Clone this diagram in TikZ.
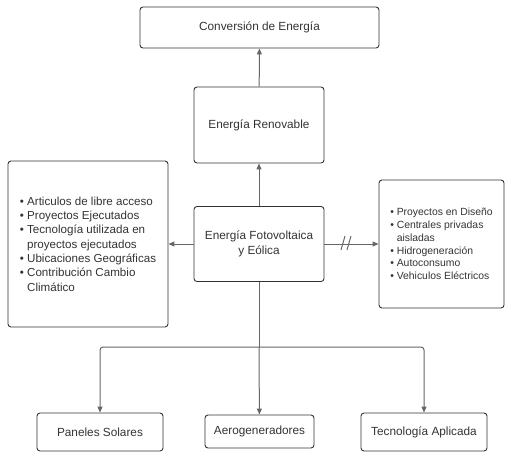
\documentclass[tikz,border=0pt]{standalone}
\usepackage{fontspec}
\setmainfont{Liberation Sans}
\usetikzlibrary{arrows.meta}
\definecolor{B1}{RGB}{51,51,51}
\definecolor{L1}{RGB}{102,102,102}
\tikzstyle{box}=[draw=B1, line width=0.9pt, rounded corners=3pt, text=B1, align=center, font=\fontsize{11.8}{14.6}\selectfont]
\tikzstyle{arr}=[draw=L1, line width=1pt, -{Triangle[length=6pt,width=5pt]}]
\tikzstyle{lin}=[draw=L1, line width=1pt]

\begin{document}
\begin{tikzpicture}[x=1pt, y=-1pt]
    \useasboundingbox (0,0) rectangle (508,459);
    \node[box, minimum width=239pt, minimum height=41pt] (conv) at (259.5,27.5) {Conversión de Energía};
    \node[box, minimum width=130pt, minimum height=76pt] (renov) at (259,125) {Energía Renovable};
    \node[box, minimum width=130pt, minimum height=75pt] (fv) at (259,244) {Energía Fotovoltaica\\y Eólica};
    \node[box, minimum width=160pt, minimum height=166pt, align=left, font=\fontsize{11.6}{14.3}\selectfont] (acceso) at (88,244)
      {\textbullet\ Articulos de libre acceso\\
       \textbullet\ Proyectos Ejecutados\\
       \textbullet\ Tecnología utilizada en\\
       \phantom{\textbullet\ }proyectos ejecutados\\
       \textbullet\ Ubicaciones Geográficas\\
       \textbullet\ Contribución Cambio\\
       \phantom{\textbullet\ }Climático};
    \node[box, minimum width=125pt, minimum height=128pt, align=left, font=\fontsize{10.4}{12.8}\selectfont] (diseno) at (441.5,244)
      {\textbullet\ Proyectos en Diseño\\
       \textbullet\ Centrales privadas\\
       \phantom{\textbullet\ }aisladas\\
       \textbullet\ Hidrogeneración\\
       \textbullet\ Autoconsumo\\
       \textbullet\ Vehiculos Eléctricos};
    \node[box, minimum width=126pt, minimum height=38pt] (paneles) at (100,432) {Paneles Solares};
    \node[box, minimum width=109pt, minimum height=33pt] (aero) at (259.5,431.5) {Aerogeneradores};
    \node[box, minimum width=126pt, minimum height=38pt] (tec) at (424,432) {Tecnología Aplicada};
    \coordinate (split) at (259,347);
    % flechas
    \draw[arr] (renov) -- (conv);
    \draw[arr] (fv) -- (renov);
    \draw[arr] (fv) -- (acceso);
    \draw[arr] (fv) -- (diseno);
    \draw[lin] (341,250) -- (345,236) (347,250) -- (351,236);
    \draw[lin] (fv) -- (split);
    \draw[arr, rounded corners=3pt] (split) -| (paneles);
    \draw[arr, rounded corners=3pt] (split) -| (tec);
    \draw[arr] (split) -- (aero);
\end{tikzpicture}
\end{document}
